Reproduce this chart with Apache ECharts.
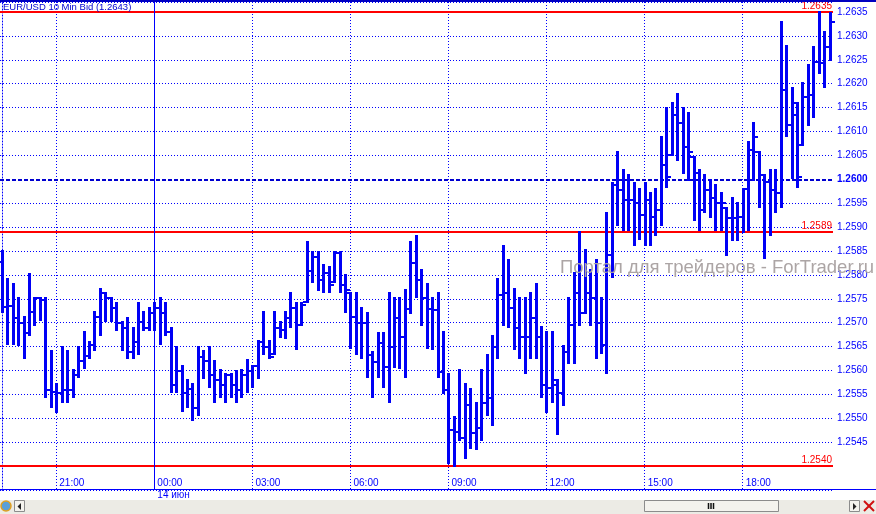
<!DOCTYPE html>
<html><head><meta charset="utf-8">
<script src="https://cdn.jsdelivr.net/npm/echarts@6/dist/echarts.min.js"></script>
<style>html,body{margin:0;padding:0;background:#fff;overflow:hidden}#c{width:876px;height:514px}</style>
</head><body><div id="c"></div>
<script>
// ---- data (EUR/USD, 10 min bars) ----
const openP = [
1.25827,1.25733,1.25735,1.25710,1.25699,1.25678,1.25722,1.25752,1.25747,1.25559,
1.25555,1.25553,1.25559,1.25559,1.25590,1.25620,1.25630,1.25653,1.25712,1.25762,
1.25752,1.25731,1.25699,1.25689,1.25639,1.25659,1.25701,1.25689,1.25720,1.25731,
1.25720,1.25680,1.25569,1.25599,1.25553,1.25561,1.25521,1.25628,1.25620,1.25590,
1.25580,1.25569,1.25590,1.25569,1.25559,1.25590,1.25599,1.25609,1.25659,1.25649,
1.25634,1.25689,1.25685,1.25710,1.25731,1.25695,1.25743,1.25808,1.25837,1.25789,
1.25804,1.25785,1.25846,1.25779,1.25762,1.25712,1.25699,1.25699,1.25632,1.25618,
1.25657,1.25607,1.25649,1.25710,1.25670,1.25729,1.25825,1.25789,1.25752,1.25729,
1.25726,1.25597,1.25559,1.25475,1.25471,1.25459,1.25528,1.25469,1.25480,1.25532,
1.25542,1.25649,1.25758,1.25762,1.25731,1.25689,1.25670,1.25670,1.25710,1.25670,
1.25569,1.25563,1.25580,1.25553,1.25639,1.25695,1.25762,1.25720,1.25762,1.25752,
1.25699,1.25653,1.25842,1.25988,1.25978,1.25957,1.25957,1.25950,1.25925,1.25957,
1.25921,1.25936,1.26030,1.26051,1.26134,1.26118,1.26067,1.26047,1.26013,1.25936,
1.25978,1.25961,1.25950,1.25940,1.25919,1.25919,1.25921,1.25980,1.26061,1.26057,
1.26009,1.25994,1.25978,1.25971,1.26187,1.26114,1.26160,1.26072,1.26172,1.26176,
1.26245,1.26243,1.26277];
const closeP = [
1.25733,1.25735,1.25710,1.25699,1.25678,1.25722,1.25752,1.25747,1.25559,1.25555,
1.25553,1.25559,1.25559,1.25590,1.25620,1.25630,1.25653,1.25712,1.25762,1.25752,
1.25731,1.25699,1.25689,1.25639,1.25659,1.25701,1.25689,1.25720,1.25731,1.25720,
1.25680,1.25569,1.25599,1.25553,1.25561,1.25521,1.25628,1.25620,1.25590,1.25580,
1.25569,1.25590,1.25569,1.25559,1.25590,1.25599,1.25609,1.25659,1.25649,1.25628,
1.25689,1.25685,1.25710,1.25731,1.25695,1.25737,1.25808,1.25837,1.25789,1.25804,
1.25779,1.25846,1.25779,1.25768,1.25712,1.25699,1.25699,1.25632,1.25618,1.25657,
1.25607,1.25649,1.25710,1.25670,1.25729,1.25825,1.25789,1.25752,1.25729,1.25726,
1.25597,1.25559,1.25475,1.25471,1.25459,1.25528,1.25469,1.25480,1.25532,1.25542,
1.25649,1.25758,1.25762,1.25731,1.25689,1.25670,1.25670,1.25710,1.25670,1.25569,
1.25563,1.25569,1.25553,1.25639,1.25695,1.25762,1.25720,1.25762,1.25752,1.25699,
1.25653,1.25842,1.25988,1.25978,1.25957,1.25957,1.25950,1.25925,1.25957,1.25921,
1.25936,1.26030,1.26005,1.26134,1.26118,1.26067,1.26057,1.26013,1.25936,1.25978,
1.25961,1.25950,1.25950,1.25919,1.25919,1.25921,1.25980,1.26061,1.26088,1.26009,
1.25994,1.25978,1.25971,1.26187,1.26114,1.26134,1.26005,1.26172,1.26176,1.26245,
1.26243,1.26277,1.26329];
const lowP = [
1.25722,1.25655,1.25655,1.25653,1.25626,1.25674,1.25695,1.25706,1.25544,1.25523,
1.25513,1.25534,1.25534,1.25544,1.25586,1.25605,1.25626,1.25643,1.25674,1.25703,
1.25703,1.25685,1.25643,1.25626,1.25626,1.25634,1.25685,1.25685,1.25685,1.25655,
1.25674,1.25555,1.25555,1.25515,1.25523,1.25496,1.25507,1.25584,1.25565,1.25534,
1.25544,1.25534,1.25544,1.25534,1.25544,1.25555,1.25565,1.25584,1.25634,1.25626,
1.25634,1.25670,1.25668,1.25691,1.25645,1.25695,1.25743,1.25785,1.25768,1.25764,
1.25764,1.25785,1.25764,1.25722,1.25647,1.25634,1.25626,1.25586,1.25544,1.25586,
1.25565,1.25534,1.25607,1.25605,1.25586,1.25720,1.25754,1.25695,1.25647,1.25645,
1.25586,1.25553,1.25406,1.25400,1.25454,1.25417,1.25438,1.25436,1.25454,1.25507,
1.25486,1.25626,1.25695,1.25691,1.25645,1.25626,1.25595,1.25626,1.25626,1.25544,
1.25513,1.25534,1.25467,1.25528,1.25616,1.25616,1.25695,1.25720,1.25695,1.25626,
1.25636,1.25595,1.25795,1.25904,1.25894,1.25894,1.25862,1.25875,1.25862,1.25862,
1.25883,1.25904,1.25984,1.26051,1.26040,1.26013,1.25998,1.25915,1.25894,1.25931,
1.25921,1.25894,1.25894,1.25842,1.25873,1.25873,1.25890,1.25894,1.25998,1.25942,
1.25835,1.25883,1.25931,1.25942,1.26091,1.26003,1.25984,1.26072,1.26114,1.26130,
1.26222,1.26193,1.26250];
const highP = [
1.25850,1.25791,1.25781,1.25752,1.25712,1.25802,1.25752,1.25752,1.25752,1.25641,
1.25572,1.25649,1.25641,1.25601,1.25649,1.25680,1.25659,1.25722,1.25770,1.25762,
1.25752,1.25741,1.25701,1.25710,1.25689,1.25741,1.25722,1.25731,1.25741,1.25752,
1.25741,1.25689,1.25649,1.25609,1.25580,1.25572,1.25649,1.25641,1.25649,1.25620,
1.25601,1.25593,1.25593,1.25599,1.25601,1.25622,1.25609,1.25662,1.25722,1.25662,
1.25722,1.25701,1.25722,1.25762,1.25741,1.25741,1.25869,1.25848,1.25848,1.25821,
1.25816,1.25848,1.25848,1.25800,1.25762,1.25762,1.25731,1.25720,1.25639,1.25678,
1.25678,1.25762,1.25752,1.25752,1.25768,1.25869,1.25881,1.25810,1.25781,1.25752,
1.25762,1.25680,1.25593,1.25503,1.25601,1.25572,1.25561,1.25532,1.25601,1.25632,
1.25672,1.25791,1.25860,1.25831,1.25770,1.25752,1.25752,1.25762,1.25781,1.25691,
1.25680,1.25680,1.25580,1.25651,1.25752,1.25804,1.25890,1.25852,1.25810,1.25831,
1.25752,1.25929,1.25992,1.26057,1.26019,1.26009,1.25992,1.25980,1.25992,1.25971,
1.25980,1.26088,1.26149,1.26160,1.26178,1.26149,1.26139,1.26047,1.26019,1.26009,
1.25998,1.25988,1.25971,1.25940,1.25961,1.25950,1.25980,1.26078,1.26118,1.26057,
1.26009,1.26019,1.26019,1.26329,1.26279,1.26191,1.26160,1.26201,1.26239,1.26277,
1.26350,1.26308,1.26348];

const startHour = 19, startMinute = 20, stepMinutes = 10;
const categories = [];
for (let i = 0; i < openP.length; i++) {
  const t = startHour * 60 + startMinute + i * stepMinutes;
  const h = Math.floor(t / 60) % 24, m = t % 60;
  categories.push(String(h).padStart(2, '0') + ':' + String(m).padStart(2, '0'));
}
const timeTicks = ['21:00', '00:00', '03:00', '06:00', '09:00', '12:00', '15:00', '18:00'];
const dayBreak = '00:00';
const dayLabel = '14 июн';
const redLevels = [1.2635, 1.2589, 1.2540];
const dashedLevel = 1.2600;
const yMin = 1.2535, yMax = 1.26371, yStep = 0.0005;
const titleText = 'EUR/USD 10 Min Bid (1.2643)';
const watermarkText = 'Портал для трейдеров - ForTrader.ru';

// ---- styling ----
const FONT = 'Liberation Sans';
const BLUE = '#0000ff';
const BAR = '#0000f5';
const RED = '#ff0000';
const dotted = [1, 2];

const chart = echarts.init(document.getElementById('c'), null, {renderer: 'canvas'});

const ohlc = categories.map((c, i) => [i, openP[i], closeP[i], lowP[i], highP[i]]);

function renderBar(params, api) {
  const i = api.value(0);
  const o = api.coord([i, api.value(1)]);
  const c = api.coord([i, api.value(2)]);
  const l = api.coord([i, api.value(3)]);
  const h = api.coord([i, api.value(4)]);
  const x = Math.round(h[0]) + 0.5;
  const yo = Math.round(o[1]), yc = Math.round(c[1]);
  return {
    type: 'group',
    children: [
      {type: 'line', shape: {x1: x, y1: Math.round(h[1]) - 1, x2: x, y2: Math.round(l[1]) + 1},
       style: {stroke: BAR, lineWidth: 3}},
      {type: 'line', shape: {x1: x - 4.5, y1: yo, x2: x, y2: yo}, style: {stroke: BAR, lineWidth: 2}},
      {type: 'line', shape: {x1: x, y1: yc, x2: x + 4.5, y2: yc}, style: {stroke: BAR, lineWidth: 2}}
    ]
  };
}

function yLabel(v) {
  const k = Math.round(v / yStep);
  if (Math.abs(v - k * yStep) > 1e-7 || v < redLevels[2] + yStep / 2) return '';
  const s = (k * yStep).toFixed(4);
  return s === dashedLevel.toFixed(4) ? '{b|' + s + '}' : s;
}

const markData = redLevels.map(v => ({
  yAxis: v,
  lineStyle: {color: RED, width: 2, type: 'solid'},
  label: {show: true, position: 'insideEndTop', distance: 1, formatter: v.toFixed(4),
          color: RED, fontSize: 10, fontFamily: FONT}
}));
markData.push({yAxis: dashedLevel, lineStyle: {color: '#0000d0', width: 2, type: [4, 2]}, label: {show: false}});
markData.push({xAxis: categories.indexOf(dayBreak), lineStyle: {color: BLUE, width: 1, type: 'solid'}, label: {show: false}});

const option = {
  animation: false,
  backgroundColor: '#ffffff',
  title: {
    text: titleText, left: 3, top: 2, padding: 0,
    textStyle: {fontSize: 9.5, fontWeight: 'normal', color: '#0000d0', fontFamily: FONT}
  },
  grid: [
    {left: 0, top: 2, width: 833, height: 488},
    {left: 1.8, top: 2, width: 828.1, height: 488}
  ],
  xAxis: [
    {type: 'value', gridIndex: 0, min: -0.33, max: categories.length - 0.4, show: false},
    {
      type: 'category', gridIndex: 1, data: categories, boundaryGap: false,
      axisLine: {show: false}, axisTick: {show: false},
      axisLabel: {
        inside: true, margin: 2, align: 'left', padding: [0, 0, 0, 3],
        interval: (idx, val) => timeTicks.indexOf(val) >= 0,
        color: BLUE, fontSize: 10, fontFamily: FONT
      },
      splitLine: {show: true, interval: (idx, val) => timeTicks.indexOf(val) >= 0,
                  lineStyle: {color: BLUE, width: 1, type: dotted}}
    },
    {
      type: 'category', gridIndex: 1, data: categories, boundaryGap: false, position: 'bottom',
      axisLine: {show: false}, axisTick: {show: false}, splitLine: {show: false},
      axisLabel: {
        margin: 0, align: 'left', padding: [0, 0, 0, 3],
        interval: (idx, val) => val === dayBreak,
        formatter: () => dayLabel,
        color: BLUE, fontSize: 10, fontFamily: FONT
      }
    }
  ],
  yAxis: [
    {
      type: 'value', gridIndex: 0, position: 'right', min: yMin, max: yMax, interval: yStep,
      axisLine: {show: true, lineStyle: {color: BLUE, width: 1, type: dotted}},
      axisTick: {show: true, length: 3, lineStyle: {color: BLUE, type: dotted}},
      axisLabel: {
        margin: 4, color: BLUE, fontSize: 10, fontFamily: FONT, formatter: yLabel,
        showMinLabel: true, showMaxLabel: true,
        rich: {b: {fontWeight: 'bold', color: BLUE, fontSize: 10, fontFamily: FONT}}
      },
      splitLine: {show: true, lineStyle: {color: BLUE, width: 1, type: dotted}}
    },
    {type: 'value', gridIndex: 1, min: yMin, max: yMax, show: false}
  ],
  graphic: [
    {type: 'text', left: 560, top: 258, z: 100, zlevel: 1, silent: true,
     style: {text: watermarkText, fontSize: 18.5, fontFamily: FONT, fill: '#aca5a5'}},
    {type: 'rect', z: 50, silent: true, shape: {x: 0, y: 0, width: 876, height: 2}, style: {fill: '#0000c0'}},
    {type: 'line', z: 50, silent: true, shape: {x1: 0, y1: 489.5, x2: 876, y2: 489.5}, style: {stroke: BLUE, lineWidth: 1}},
    {type: 'rect', z: 50, silent: true, shape: {x: 0, y: 500, width: 876, height: 14}, style: {fill: '#ecebe5'}},
    {type: 'rect', z: 51, silent: true, shape: {x: 644.5, y: 500.5, width: 134, height: 11}, style: {fill: '#f4f3ee', stroke: '#8c8c8c', lineWidth: 1}},
    {type: 'line', z: 52, silent: true, shape: {x1: 708.5, y1: 503, x2: 708.5, y2: 509}, style: {stroke: '#111', lineWidth: 1.5}},
    {type: 'line', z: 52, silent: true, shape: {x1: 711, y1: 503, x2: 711, y2: 509}, style: {stroke: '#111', lineWidth: 1.5}},
    {type: 'line', z: 52, silent: true, shape: {x1: 713.5, y1: 503, x2: 713.5, y2: 509}, style: {stroke: '#111', lineWidth: 1.5}},
    {type: 'rect', z: 51, silent: true, shape: {x: 14.5, y: 500.5, width: 10, height: 11}, style: {fill: '#f4f3ee', stroke: '#8c8c8c', lineWidth: 1}},
    {type: 'polygon', z: 52, silent: true, shape: {points: [[21, 503], [21, 510], [17.5, 506.5]]}, style: {fill: '#222'}},
    {type: 'rect', z: 51, silent: true, shape: {x: 849.5, y: 500.5, width: 10, height: 11}, style: {fill: '#f4f3ee', stroke: '#8c8c8c', lineWidth: 1}},
    {type: 'polygon', z: 52, silent: true, shape: {points: [[853, 503], [853, 510], [856.5, 506.5]]}, style: {fill: '#222'}},
    {type: 'line', z: 52, silent: true, shape: {x1: 864, y1: 501, x2: 874, y2: 511}, style: {stroke: '#d01010', lineWidth: 2}},
    {type: 'line', z: 52, silent: true, shape: {x1: 874, y1: 501, x2: 864, y2: 511}, style: {stroke: '#d01010', lineWidth: 2}},
    {type: 'circle', z: 52, silent: true, shape: {cx: 6, cy: 506, r: 5}, style: {fill: '#5a9fd8', stroke: '#e0a020', lineWidth: 1.5}}
  ],
  series: [
    {
      type: 'custom', xAxisIndex: 0, yAxisIndex: 0, z: 5,
      data: ohlc, encode: {x: 0, y: [1, 2, 3, 4]},
      renderItem: renderBar, silent: true, clip: false
    },
    {
      type: 'line', xAxisIndex: 0, yAxisIndex: 0, z: 8, data: [], silent: true,
      markLine: {symbol: ['none', 'none'], silent: true, animation: false, precision: 5, data: markData}
    }
  ]
};
chart.setOption(option);
</script>
</body></html>
